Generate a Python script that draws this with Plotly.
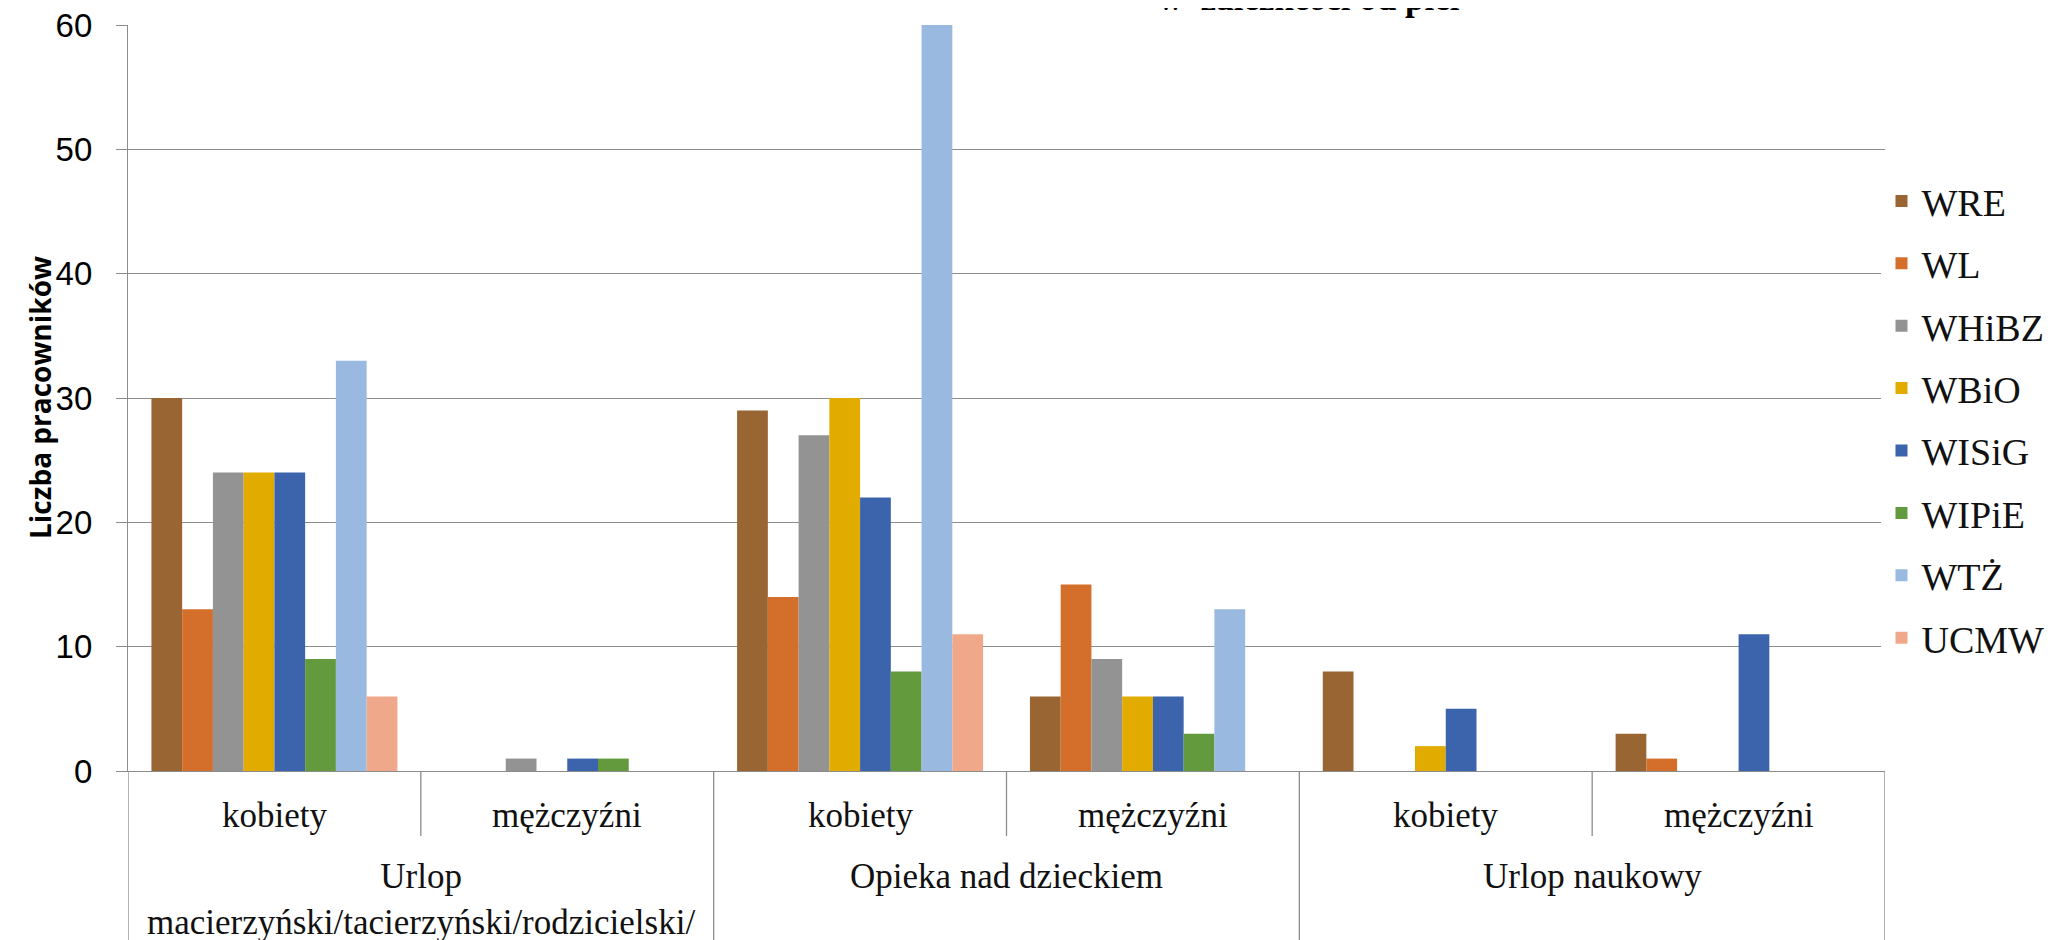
import plotly.graph_objects as go

# categories
leave_types = ["Urlop<br>macierzyński/tacierzyński/rodzicielski/",
               "Opieka nad dzieckiem", "Urlop naukowy"]
genders = ["kobiety", "mężczyźni"]
categories = [f"{lt.split('<br>')[0]} {i}|{g}" for i, lt in enumerate(leave_types) for g in genders]

# series values (one value per category)
units = ["WRE", "WL", "WHiBZ", "WBiO", "WISiG", "WIPiE", "WTŻ", "UCMW"]
WRE = [30, 0, 29, 6, 8, 3]
WL = [13, 0, 14, 15, 0, 1]
WHiBZ = [24, 1, 27, 9, 0, 0]
WBiO = [24, 0, 30, 6, 2, 0]
WISiG = [24, 1, 22, 6, 5, 11]
WIPiE = [9, 1, 8, 3, 0, 0]
WTZ = [33, 0, 60, 13, 0, 0]
UCMW = [6, 0, 11, 0, 0, 0]
series = [WRE, WL, WHiBZ, WBiO, WISiG, WIPiE, WTZ, UCMW]

colors = ["#996633", "#D36F2B", "#939393", "#E2AB00",
          "#3C64AC", "#639A3E", "#99B9E0", "#F0A88A"]

serif = "Liberation Serif, Times New Roman, serif"
line_col = "#8c8c8c"

fig = go.Figure()
for name, vals, c in zip(units, series, colors):
    fig.add_trace(go.Bar(x=categories, y=vals, name=name, legendgroup=name,
                         marker=dict(color=c, line=dict(width=0))))

# plot area geometry (pixels) used to place the annotations below the axis
W, H = 2060, 940
ml, mr, mt, mb = 120, 183, 17, 177
pw = W - ml - mr
ph = H - mt - mb

def py(px_below):
    # paper y for a pixel distance below the x axis
    return -px_below / ph

annotations = []
# inner category labels
for cat in categories:
    annotations.append(dict(x=cat, xref="x", y=py(44), yref="paper",
                            text=cat.split("|")[1], showarrow=False,
                            font=dict(family=serif, size=35, color="#111"),
                            xanchor="center", yanchor="middle"))
# outer category labels
for i, lt in enumerate(leave_types):
    annotations.append(dict(x=2 * i + 0.5, xref="x", y=py(84), yref="paper",
                            text=lt, showarrow=False, xanchor="center", yanchor="top",
                            font=dict(family=serif, size=35, color="#111")))
# y axis title
annotations.append(dict(x=-88 / pw, xref="paper", y=0.5, yref="paper",
                        text="<b>Liczba pracowników</b>", textangle=-90,
                        showarrow=False, xanchor="center", yanchor="middle",
                        font=dict(family="Open Sans, Arial, sans-serif", size=28, color="#000")))
# chart title (cut off at the top of the picture)
annotations.append(dict(x=0.672, xref="paper", y=1 + 26 / ph, yref="paper",
                        text="<b>w  zależności od płci</b>", showarrow=False,
                        xanchor="center", yanchor="middle",
                        font=dict(family=serif, size=35, color="#000")))

shapes = []
# outer dividers
for xv in [-0.5, 1.5, 3.5, 5.5]:
    shapes.append(dict(type="line", xref="x", yref="paper", x0=xv, x1=xv,
                       y0=0, y1=py(180), line=dict(color=line_col, width=1.3)))
# inner dividers
for xv in [0.5, 2.5, 4.5]:
    shapes.append(dict(type="line", xref="x", yref="paper", x0=xv, x1=xv,
                       y0=0, y1=py(65), line=dict(color=line_col, width=1.3)))

fig.update_layout(
    width=W, height=H,
    margin=dict(l=ml, r=mr, t=mt, b=mb, autoexpand=False),
    paper_bgcolor="white", plot_bgcolor="white",
    barmode="group", bargap=0.16, bargroupgap=0,
    annotations=annotations, shapes=shapes,
    legend=dict(x=0.998, xanchor="left", y=0.806, yanchor="top",
                font=dict(family=serif, size=38, color="#111"),
                tracegroupgap=10, itemclick=False),
    xaxis=dict(type="category", showticklabels=False, ticks="",
               showgrid=False, showline=True, linecolor=line_col, linewidth=1.3,
               zeroline=False, range=[-0.5, 5.5], automargin=False),
    yaxis=dict(range=[0, 60], dtick=10, showgrid=True, gridcolor=line_col,
               gridwidth=1.3, showline=True, linecolor=line_col, linewidth=1.3,
               ticks="outside", ticklen=11, tickcolor=line_col, tickwidth=1.3,
               ticklabelstandoff=17, ticklabeloverflow="allow",
               zeroline=False, automargin=False,
               tickfont=dict(family="Liberation Sans, Arial, sans-serif", size=33, color="#000")),
)

fig.write_html("out.html")
